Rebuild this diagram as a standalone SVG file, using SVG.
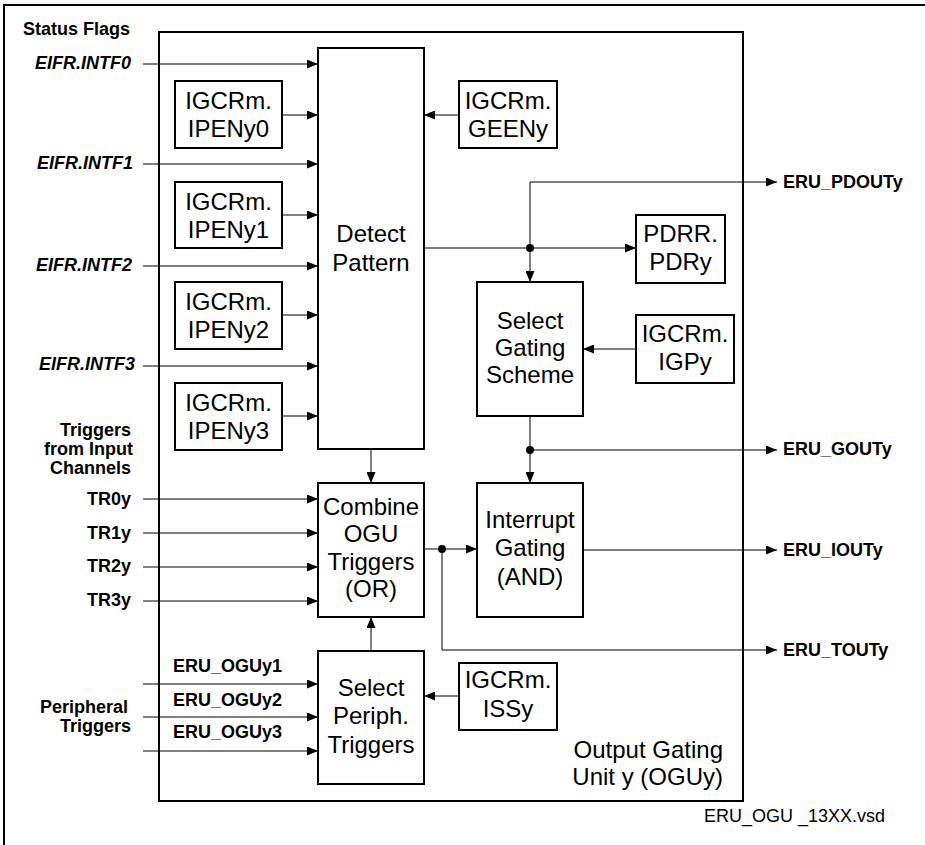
<svg xmlns="http://www.w3.org/2000/svg" width="925" height="845" viewBox="0 0 925 845">
<style>
.box{fill:#fff;stroke:#000;stroke-width:2}
.frame{fill:none;stroke:#000;stroke-width:2}
.bt{font-family:"Liberation Sans",Arial,sans-serif;font-size:24px;text-anchor:middle;fill:#000}
.lb{font-family:"Liberation Sans",Arial,sans-serif;font-size:18px;font-weight:bold;fill:#000}
.it{font-style:italic}
.end{text-anchor:end}
.c{fill:none;stroke:#000;stroke-width:1;marker-end:url(#ah)}
.p{fill:none;stroke:#000;stroke-width:1}
.dot{fill:#000}
</style>
<defs>
<marker id="ah" markerUnits="userSpaceOnUse" markerWidth="11" markerHeight="9" refX="11" refY="4.5" orient="auto">
<path d="M0,0 L11,4.5 L0,9 z" fill="#000"/>
</marker>
</defs>
<rect width="925" height="845" fill="#fff"/>
<rect class="frame" x="4" y="5" width="940" height="860"/>
<g id="ogu">
<rect class="frame" x="159" y="32" width="584" height="769"/>
<text class="bt end" x="723" y="758">Output Gating</text>
<text class="bt end" x="723" y="785">Unit y (OGUy)</text>
</g>
<g id="labels">
<text class="lb" x="23" y="35">Status Flags</text>
<text class="lb it end" x="131" y="69">EIFR.INTF0</text>
<text class="lb it end" x="133" y="169">EIFR.INTF1</text>
<text class="lb it end" x="132" y="271">EIFR.INTF2</text>
<text class="lb it end" x="135" y="370">EIFR.INTF3</text>
<text class="lb end" x="131" y="436">Triggers</text>
<text class="lb end" x="133" y="455">from Input</text>
<text class="lb end" x="131" y="474">Channels</text>
<text class="lb end" x="131" y="505">TR0y</text>
<text class="lb end" x="131" y="539">TR1y</text>
<text class="lb end" x="131" y="572">TR2y</text>
<text class="lb end" x="131" y="606">TR3y</text>
<text class="lb end" x="128" y="713">Peripheral</text>
<text class="lb end" x="131" y="732">Triggers</text>
<text class="lb" x="173" y="672">ERU_OGUy1</text>
<text class="lb" x="173" y="706">ERU_OGUy2</text>
<text class="lb" x="173" y="738">ERU_OGUy3</text>
<text class="lb" x="783" y="188">ERU_PDOUTy</text>
<text class="lb" x="783" y="455">ERU_GOUTy</text>
<text class="lb" x="783" y="556">ERU_IOUTy</text>
<text class="lb" x="783" y="656">ERU_TOUTy</text>
<text font-family="Liberation Sans,Arial,sans-serif" font-size="18" x="704" y="822">ERU_OGU _13XX.vsd</text>
</g>
<g id="connectors">
<path class="c" d="M143,64 H318"/>
<path class="c" d="M143,164 H318"/>
<path class="c" d="M143,266 H318"/>
<path class="c" d="M143,366 H318"/>
<path class="c" d="M282,115 H318"/>
<path class="c" d="M282,215 H318"/>
<path class="c" d="M282,315 H318"/>
<path class="c" d="M282,416 H318"/>
<path class="c" d="M459,115 H424"/>
<path class="c" d="M424,248 H636"/>
<path class="c" d="M530,248 V182 H777"/>
<path class="c" d="M530,248 V282"/>
<path class="c" d="M636,349 H583"/>
<path class="c" d="M530,416 V483"/>
<path class="c" d="M530,450 H777"/>
<path class="c" d="M371,449 V483"/>
<path class="c" d="M143,499 H318"/>
<path class="c" d="M143,533 H318"/>
<path class="c" d="M143,567 H318"/>
<path class="c" d="M143,601 H318"/>
<path class="c" d="M424,549 H477"/>
<path class="c" d="M442,549 V650 H777"/>
<path class="c" d="M583,550 H777"/>
<path class="c" d="M371,651 V617"/>
<path class="c" d="M459,696 H424"/>
<path class="c" d="M143,684 H318"/>
<path class="c" d="M143,717 H318"/>
<path class="c" d="M143,751 H318"/>
<circle class="dot" cx="530" cy="248" r="4"/>
<circle class="dot" cx="530" cy="450" r="4"/>
<circle class="dot" cx="442" cy="549" r="4"/>
</g>
<g id="detect">
<rect class="box" x="318" y="48" width="106" height="401"/>
<text class="bt" x="371" y="242">Detect</text>
<text class="bt" x="371" y="271">Pattern</text>
</g>
<g id="ipen0">
<rect class="box" x="175" y="81" width="107" height="67"/>
<text class="bt" x="228.5" y="109">IGCRm.</text>
<text class="bt" x="228.5" y="137">IPENy0</text>
</g>
<g id="ipen1">
<rect class="box" x="175" y="182" width="107" height="66"/>
<text class="bt" x="228.5" y="210">IGCRm.</text>
<text class="bt" x="228.5" y="238">IPENy1</text>
</g>
<g id="ipen2">
<rect class="box" x="175" y="282" width="107" height="67"/>
<text class="bt" x="228.5" y="310">IGCRm.</text>
<text class="bt" x="228.5" y="338">IPENy2</text>
</g>
<g id="ipen3">
<rect class="box" x="175" y="383" width="107" height="67"/>
<text class="bt" x="228.5" y="411">IGCRm.</text>
<text class="bt" x="228.5" y="439">IPENy3</text>
</g>
<g id="geen">
<rect class="box" x="459" y="81" width="98" height="67"/>
<text class="bt" x="508" y="109">IGCRm.</text>
<text class="bt" x="508" y="137">GEENy</text>
</g>
<g id="pdrr">
<rect class="box" x="636" y="215" width="89" height="68"/>
<text class="bt" x="680.5" y="242">PDRR.</text>
<text class="bt" x="680.5" y="270">PDRy</text>
</g>
<g id="sgs">
<rect class="box" x="477" y="282" width="106" height="134"/>
<text class="bt" x="530" y="329">Select</text>
<text class="bt" x="530" y="356">Gating</text>
<text class="bt" x="530" y="383">Scheme</text>
</g>
<g id="igp">
<rect class="box" x="636" y="315" width="98" height="68"/>
<text class="bt" x="685" y="342">IGCRm.</text>
<text class="bt" x="685" y="370">IGPy</text>
</g>
<g id="combine">
<rect class="box" x="318" y="483" width="106" height="134"/>
<text class="bt" x="371" y="515">Combine</text>
<text class="bt" x="371" y="542">OGU</text>
<text class="bt" x="371" y="570">Triggers</text>
<text class="bt" x="371" y="597">(OR)</text>
</g>
<g id="igating">
<rect class="box" x="477" y="483" width="106" height="134"/>
<text class="bt" x="530" y="528">Interrupt</text>
<text class="bt" x="530" y="556">Gating</text>
<text class="bt" x="530" y="585">(AND)</text>
</g>
<g id="periph">
<rect class="box" x="318" y="651" width="106" height="133"/>
<text class="bt" x="371" y="696">Select</text>
<text class="bt" x="371" y="724">Periph.</text>
<text class="bt" x="371" y="753">Triggers</text>
</g>
<g id="iss">
<rect class="box" x="459" y="663" width="98" height="67"/>
<text class="bt" x="508" y="688">IGCRm.</text>
<text class="bt" x="508" y="717">ISSy</text>
</g>
</svg>
